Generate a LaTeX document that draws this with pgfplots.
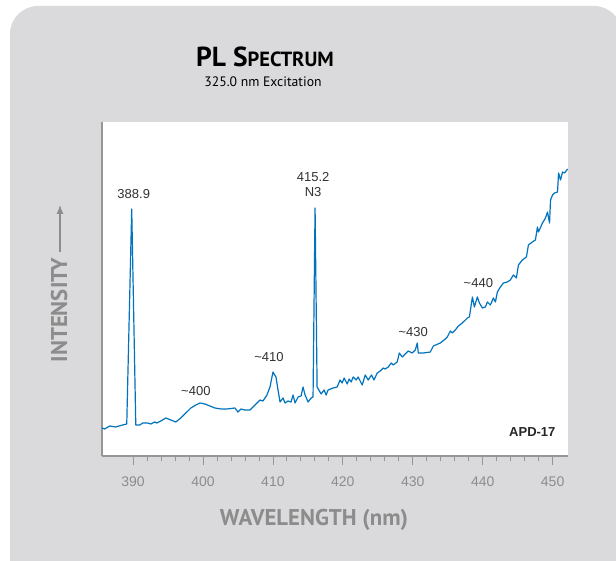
\documentclass[border=0pt]{standalone}
\usepackage{fontspec}
\setmainfont{Liberation Sans}
\newfontfamily\titlefont{PT Sans}
\usepackage{pgfplots}
\pgfplotsset{compat=1.18}
\usetikzlibrary{arrows.meta}

\definecolor{panel}{RGB}{218,218,220}
\definecolor{spec}{RGB}{0,115,190}
\definecolor{axgray}{RGB}{150,150,150}
\definecolor{lblgray}{RGB}{140,140,140}
\definecolor{anno}{RGB}{50,50,50}

\begin{document}
\begin{tikzpicture}[x=1pt,y=1pt]
\useasboundingbox (0,0) rectangle (616,561);
\fill[white] (0,0) rectangle (616,561);
\begin{scope}
  \clip (0,0) rectangle (616,561);
  \fill[panel, rounded corners=28pt] (10,-40) rectangle (622,555);
\end{scope}

% titles
\node[anchor=base, font=\titlefont\bfseries] at (265,494)
  {{\fontsize{27.5}{27.5}\selectfont PL S}{\fontsize{20.5}{20.5}\selectfont PECTRUM}};
\node[anchor=base, font=\titlefont\fontsize{13.7}{14}\selectfont] at (263,474) {325.0 nm Excitation};

% axis titles
\node[anchor=base, font=\titlefont\bfseries\fontsize{22.8}{23}\selectfont, text=lblgray] at (314,35) {WAVELENGTH (nm)};
\node[anchor=base, rotate=90, font=\titlefont\bfseries\fontsize{22.8}{23}\selectfont, text=lblgray] at (67,251) {INTENSITY};
\draw[lblgray, line width=1.2pt, -{Latex[length=9pt,width=7pt]}] (60,309) -- (60,356);

\begin{axis}[
    at={(102pt,105pt)}, anchor=south west,
    scale only axis,
    width=466pt, height=334pt,
    xmin=385.56, xmax=452.2,
    ymin=0, ymax=334,
    axis x line*=bottom,
    axis y line*=left,
    axis line style={axgray, line width=1.2pt},
    axis background/.style={fill=white},
    xtick={390,400,...,450},
    minor x tick num=4,
    ytick=\empty,
    tick align=outside,
    major tick length=9pt,
    minor tick length=5.5pt,
    tick style={axgray, line width=0.8pt},
    xticklabel style={text=lblgray, font=\fontsize{14}{14}\selectfont, yshift=-8pt},
    /pgf/number format/assume math mode=true,
    /pgf/number format/1000 sep={},
    clip=false,
]
\addplot[spec, line width=1.2pt, line join=round] coordinates {
(385.52,28) (385.94,27) (386.66,30) (387.52,29) (388.52,31) (389.10,32)
(389.81,247) (390.39,31) (390.96,31) (391.39,33) (392.11,33) (392.54,32)
(393.11,34) (393.40,33) (393.97,35) (394.68,38) (395.40,36) (396.12,34)
(396.83,38) (397.55,43) (398.27,48) (398.98,51) (399.56,53) (400.27,52)
(400.99,50) (401.71,48) (402.57,47) (403.43,47) (404.57,48) (405.00,44)
(405.43,47) (406.00,46) (406.72,46) (407.15,49) (407.72,53) (408.15,56)
(408.58,55) (409.15,61) (409.58,69) (410.01,84) (410.44,79) (410.73,66)
(411.02,54) (411.45,58) (411.73,53) (412.16,55) (412.59,54) (412.88,61)
(413.17,53) (413.60,59) (414.03,60) (414.31,69) (414.60,61) (415.03,54)
(415.46,58) (415.74,59) (416.03,248) (416.32,69) (416.89,62) (417.32,66)
(417.61,61) (417.89,66) (418.61,68) (419.18,69) (419.61,76) (419.90,73)
(420.19,78) (420.62,72) (420.90,77) (421.19,74) (421.48,79) (421.91,76)
(422.19,79) (422.77,71) (423.20,81) (423.63,76) (424.10,81) (424.45,76)
(424.92,83) (425.35,85) (425.78,88) (426.06,87) (426.49,89) (426.92,93)
(427.21,91) (427.78,94) (428.07,103) (428.50,99) (428.93,102) (429.36,105)
(429.93,103) (430.36,106) (430.65,113) (430.79,103) (431.51,103) (432.51,104)
(432.94,110) (433.94,113) (434.66,117) (434.94,119) (435.37,125) (435.66,123)
(436.09,126) (436.52,130) (437.09,133) (437.81,138) (438.10,139) (438.53,159)
(438.81,149) (439.24,159) (439.53,153) (439.96,148) (440.39,149) (440.67,154)
(441.10,151) (441.53,158) (441.82,154) (442.10,164) (442.53,169) (442.96,173)
(443.53,174) (443.96,176) (444.39,181) (444.82,178) (445.11,191) (445.68,196)
(446.25,199) (446.54,211) (447.11,214) (447.54,216) (447.83,229) (447.98,224)
(448.55,233) (448.98,238) (449.27,244) (449.56,233) (449.70,256) (449.99,261)
(450.27,263) (450.70,264) (450.85,283) (451.13,276) (451.42,284) (451.71,283)
(452.14,287)
};
\node[text=anno, font=\fontsize{13}{13}\selectfont] at (axis cs:390.1,262) {388.9};
\node[text=anno, font=\fontsize{13}{13}\selectfont, align=center, inner sep=0pt] at (axis cs:415.75,271) {415.2\\[2pt]N3};
\node[text=anno, font=\fontsize{13}{13}\selectfont] at (axis cs:398.98,65) {\textasciitilde400};
\node[text=anno, font=\fontsize{13}{13}\selectfont] at (axis cs:409.44,99) {\textasciitilde410};
\node[text=anno, font=\fontsize{13}{13}\selectfont] at (axis cs:430.07,124) {\textasciitilde430};
\node[text=anno, font=\fontsize{13}{13}\selectfont] at (axis cs:439.38,173) {\textasciitilde440};
\node[text=black!85, font=\bfseries\fontsize{13}{13}\selectfont] at (axis cs:447.1,24) {APD-17};
\end{axis}
\end{tikzpicture}
\end{document}
